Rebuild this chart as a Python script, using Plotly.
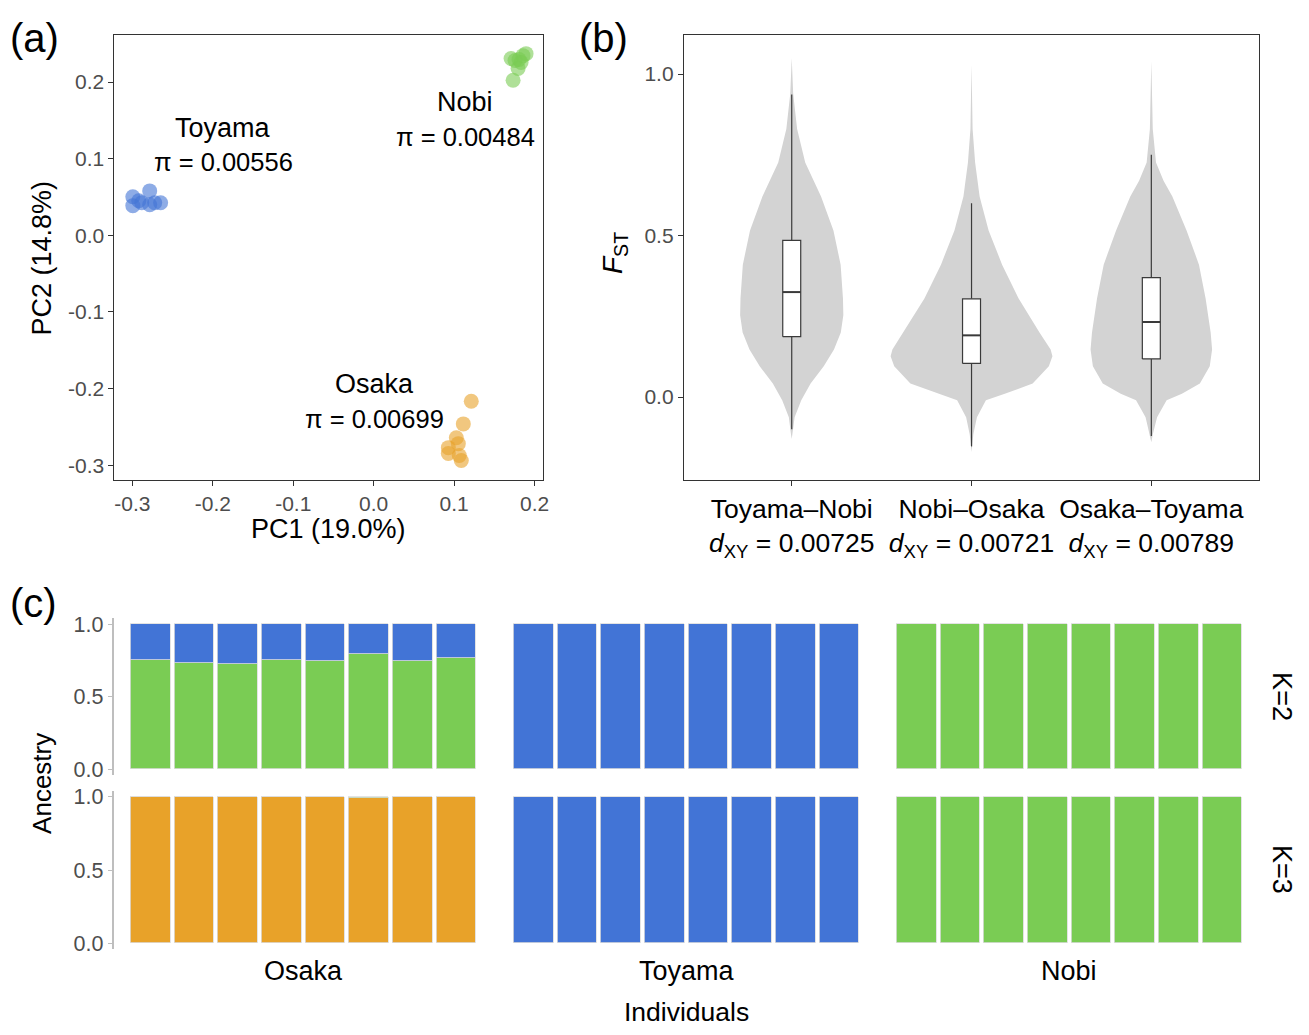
import plotly.graph_objects as go

W, H = 1309, 1035
FONT = "Liberation Sans, Arial, Helvetica, sans-serif"
GRAY_TXT = "#4D4D4D"
BLUE = "#4274D6"
GREEN = "#7ACC54"
ORANGE = "#E8A229"
VIOLIN = "#D3D3D3"

# ---------------- Panel (a) PCA data ----------------
toyama_pc1 = [-0.2995, -0.2785, -0.2649, -0.2995, -0.2884, -0.2785, -0.2921, -0.2723]
toyama_pc2 = [0.0503, 0.0580, 0.0425, 0.0387, 0.0425, 0.0399, 0.0451, 0.0425]
nobi_pc1 = [0.1894, 0.1708, 0.1832, 0.1795, 0.1733, 0.1856, 0.1757, 0.1807]
nobi_pc2 = [0.2371, 0.2307, 0.2255, 0.2178, 0.2023, 0.2345, 0.2281, 0.2294]
osaka_pc1 = [0.1213, 0.1114, 0.1027, 0.0928, 0.1052, 0.0928, 0.1089, 0.1064]
osaka_pc2 = [-0.2165, -0.2461, -0.2642, -0.2771, -0.2719, -0.2848, -0.2938, -0.2874]
pc1_ticks = [-0.3, -0.2, -0.1, 0.0, 0.1, 0.2]
pc1_ticktext = ["-0.3", "-0.2", "-0.1", "0.0", "0.1", "0.2"]
pc2_ticks = [-0.3, -0.2, -0.1, 0.0, 0.1, 0.2]
pc2_ticktext = ["-0.3", "-0.2", "-0.1", "0.0", "0.1", "0.2"]
pop_labels = ["Toyama", "Nobi", "Osaka"]
pop_pi = ["0.00556", "0.00484", "0.00699"]

# ---------------- Panel (b) FST data ----------------
pairs = ["Toyama–Nobi", "Nobi–Osaka", "Osaka–Toyama"]
dxy = ["0.00725", "0.00721", "0.00789"]
fst_q1 = [0.187, 0.104, 0.118]
fst_median = [0.325, 0.191, 0.232]
fst_q3 = [0.485, 0.304, 0.370]
fst_low = [-0.100, -0.153, -0.121]
fst_up = [0.937, 0.600, 0.750]
box_half = 0.05
# violin half-width profiles (in category units)
vy_TN = [-0.13, -0.116, -0.063, -0.01, 0.042, 0.095, 0.147, 0.2, 0.253, 0.305, 0.41, 0.516, 0.621, 0.726, 0.83, 0.94, 1.05]
vw_TN = [0.0, 0.004, 0.016, 0.053, 0.105, 0.178, 0.235, 0.273, 0.287, 0.285, 0.272, 0.232, 0.163, 0.075, 0.03, 0.008, 0.0]
vy_NO = [-0.17, -0.116, -0.063, -0.01, 0.01, 0.042, 0.095, 0.126, 0.147, 0.2, 0.305, 0.41, 0.516, 0.621, 0.726, 0.83, 1.03]
vw_NO = [0.0, 0.01, 0.03, 0.08, 0.185, 0.34, 0.43, 0.45, 0.44, 0.378, 0.262, 0.17, 0.095, 0.045, 0.02, 0.006, 0.0]
vy_OT = [-0.14, -0.116, -0.063, -0.01, 0.01, 0.042, 0.095, 0.147, 0.2, 0.305, 0.41, 0.516, 0.621, 0.67, 0.726, 0.83, 1.04]
vw_OT = [0.0, 0.008, 0.032, 0.085, 0.17, 0.27, 0.325, 0.338, 0.33, 0.302, 0.265, 0.196, 0.117, 0.068, 0.026, 0.008, 0.0]
violin_y = [vy_TN, vy_NO, vy_OT]
violin_w = [vw_TN, vw_NO, vw_OT]
fst_ticks = [0.0, 0.5, 1.0]
fst_ticktext = ["0.0", "0.5", "1.0"]

# ---------------- Panel (c) ancestry data ----------------
individuals = [1, 2, 3, 4, 5, 6, 7, 8]
osaka_k2_green = [0.752, 0.730, 0.722, 0.752, 0.746, 0.795, 0.745, 0.762]
osaka_k2_blue = [0.248, 0.270, 0.278, 0.248, 0.254, 0.205, 0.255, 0.238]
osaka_k3_orange = [1.0, 1.0, 1.0, 1.0, 1.0, 0.99, 1.0, 1.0]
osaka_k3_green = [0.0, 0.0, 0.0, 0.0, 0.0, 0.01, 0.0, 0.0]
toyama_k2_blue = [1.0] * 8
toyama_k3_blue = [1.0] * 8
nobi_k2_green = [1.0] * 8
nobi_k3_green = [1.0] * 8
groups = ["Osaka", "Toyama", "Nobi"]
k_labels = ["K=2", "K=3"]
anc_ticks = [0.0, 0.5, 1.0]
anc_ticktext = ["0.0", "0.5", "1.0"]


def px(x):
    return x / W


def py(y):
    return 1 - y / H


fig = go.Figure()

# ---- panel a traces
for xs, ys, col in [(toyama_pc1, toyama_pc2, BLUE), (nobi_pc1, nobi_pc2, GREEN), (osaka_pc1, osaka_pc2, ORANGE)]:
    fig.add_trace(go.Scatter(x=xs, y=ys, mode="markers", xaxis="x", yaxis="y",
                             marker=dict(size=15, color=col, opacity=0.6, line=dict(width=0)),
                             showlegend=False, hoverinfo="skip"))

# ---- panel b violins
for i, (vy, vw) in enumerate(zip(violin_y, violin_w)):
    xs = [i + w for w in vw] + [i - w for w in reversed(vw)]
    ys = list(vy) + list(reversed(vy))
    fig.add_trace(go.Scatter(x=xs, y=ys, mode="lines", fill="toself", fillcolor=VIOLIN,
                             line=dict(width=0, color=VIOLIN), xaxis="x2", yaxis="y2",
                             showlegend=False, hoverinfo="skip"))

# ---- panel b boxplots (drawn on top of violins)
BOXLINE = dict(color="#3A3A3A", width=1.2)
for i in range(len(pairs)):
    fig.add_trace(go.Scatter(x=[i, i, None, i, i],
                             y=[fst_low[i], fst_q1[i], None, fst_q3[i], fst_up[i]],
                             mode="lines", line=BOXLINE, xaxis="x2", yaxis="y2",
                             showlegend=False, hoverinfo="skip"))
    fig.add_trace(go.Scatter(x=[i - box_half, i + box_half, i + box_half, i - box_half, i - box_half],
                             y=[fst_q1[i], fst_q1[i], fst_q3[i], fst_q3[i], fst_q1[i]],
                             mode="lines", fill="toself", fillcolor="white", line=BOXLINE,
                             xaxis="x2", yaxis="y2", showlegend=False, hoverinfo="skip"))
    fig.add_trace(go.Scatter(x=[i - box_half, i + box_half], y=[fst_median[i], fst_median[i]],
                             mode="lines", line=dict(color="#3A3A3A", width=2),
                             xaxis="x2", yaxis="y2", showlegend=False, hoverinfo="skip"))

# ---- panel c bars
bar_sets = [
    ("x3", "y3", [(osaka_k2_green, GREEN), (osaka_k2_blue, BLUE)]),
    ("x4", "y4", [(toyama_k2_blue, BLUE)]),
    ("x5", "y5", [(nobi_k2_green, GREEN)]),
    ("x6", "y6", [(osaka_k3_orange, ORANGE), (osaka_k3_green, GREEN)]),
    ("x7", "y7", [(toyama_k3_blue, BLUE)]),
    ("x8", "y8", [(nobi_k3_green, GREEN)]),
]
for xa, ya, segs in bar_sets:
    for vals, col in segs:
        fig.add_trace(go.Bar(x=individuals, y=vals, xaxis=xa, yaxis=ya, width=0.91,
                             marker=dict(color=col, line=dict(color="#DCDCDC", width=0.8)),
                             showlegend=False, hoverinfo="skip"))

tickfont = dict(family=FONT, size=21, color=GRAY_TXT)
ydom_a = [py(480), py(29)]

layout = dict(
    width=W, height=H, margin=dict(l=0, r=0, t=0, b=0), autosize=False,
    paper_bgcolor="white", plot_bgcolor="white", barmode="stack", bargap=0,
    font=dict(family=FONT, color="black"),
    xaxis=dict(domain=[px(115), px(546)], range=[-0.3223, 0.2111], tickvals=pc1_ticks,
               ticktext=pc1_ticktext, showgrid=False, zeroline=False, showline=True,
               mirror=True, linecolor="#333333", linewidth=1, ticks="outside", ticklen=5,
               tickcolor="#333333", tickfont=tickfont, anchor="y"),
    yaxis=dict(domain=ydom_a, range=[-0.3193, 0.2619], tickvals=pc2_ticks,
               ticktext=pc2_ticktext, showgrid=False, zeroline=False, showline=True,
               mirror=True, linecolor="#333333", linewidth=1, ticks="outside", ticklen=5,
               tickcolor="#333333", tickfont=tickfont, anchor="x"),
    xaxis2=dict(domain=[px(687), px(1265)], range=[-0.6, 2.6], tickvals=[0, 1, 2],
                ticktext=[f"{p}<br><i>d</i><sub>XY</sub> = {d}" for p, d in zip(pairs, dxy)],
                showgrid=False, zeroline=False, showline=True, mirror=True,
                linecolor="#333333", linewidth=1, ticks="outside", ticklen=5,
                tickcolor="#333333", tickfont=dict(family=FONT, size=26.5, color="black"),
                anchor="y2"),
    yaxis2=dict(domain=ydom_a, range=[-0.2569, 1.1223], tickvals=fst_ticks,
                ticktext=fst_ticktext, showgrid=False, zeroline=False, showline=True,
                mirror=True, linecolor="#333333", linewidth=1, ticks="outside", ticklen=5,
                tickcolor="#333333", tickfont=tickfont, anchor="x2"),
)

# panel c axes
col_dom = [(px(115), px(480)), (px(514), px(865)), (px(899), px(1250))]
col_rng = [[0.5 - 14 / 43.875, 8.5], [0.5, 8.5], [0.5, 8.5]]
row_dom = [(py(779), py(620)), (py(955), py(795))]
n = 3
for r in range(2):
    for c in range(3):
        xa = f"xaxis{n}"
        ya = f"yaxis{n}"
        layout[xa] = dict(domain=list(col_dom[c]), range=col_rng[c], visible=False,
                          anchor=f"y{n}", fixedrange=True)
        if c == 0:
            layout[ya] = dict(domain=list(row_dom[r]), range=[-0.04, 1.04], tickvals=anc_ticks,
                              ticktext=anc_ticktext, showgrid=False, zeroline=False,
                              showline=True, linecolor="#BEBEBE", linewidth=1.5,
                              ticks="outside", ticklen=5, tickcolor="#BEBEBE",
                              tickfont=dict(family=FONT, size=21.5, color=GRAY_TXT),
                              anchor=f"x{n}")
        else:
            layout[ya] = dict(domain=list(row_dom[r]), range=[-0.04, 1.04], visible=False,
                              anchor=f"x{n}")
        n += 1

fig.update_layout(**layout)

ann = []


def add_paper(text, x, y, size, xanchor="center", yanchor="middle", angle=0, color="black"):
    ann.append(dict(text=text, x=px(x), y=py(y), xref="paper", yref="paper", showarrow=False,
                    xanchor=xanchor, yanchor=yanchor, textangle=angle,
                    font=dict(family=FONT, size=size, color=color)))


add_paper("(a)", 8, 32, 40, xanchor="left")
add_paper("(b)", 580, 32, 40, xanchor="left")
add_paper("(c)", 8, 605, 40, xanchor="left")
add_paper("PC1 (19.0%)", 330, 530, 27)
add_paper("PC2 (14.8%)", 42, 255, 27, angle=-90)
add_paper("<i>F</i><sub>ST</sub>", 618, 250, 28, angle=-90)
add_paper("Ancestry", 42, 787, 26, angle=-90)
add_paper("Individuals", 690, 1019, 26.5)
for g, cx in zip(groups, [305, 690, 1074]):
    add_paper(g, cx, 977, 27)
for k, cy in zip(k_labels, [699, 874]):
    add_paper(k, 1288, cy, 27, angle=90)

# panel a population labels (data coordinates)
lab_pos = [(-0.187, 0.1405, 0.0954), (0.1139, 0.174, 0.1289), (0.0012, -0.1946, -0.2397)]
for name, pi, (lx, ly1, ly2) in zip(pop_labels, pop_pi, lab_pos):
    ann.append(dict(text=name, x=lx, y=ly1, xref="x", yref="y", showarrow=False,
                    font=dict(family=FONT, size=27, color="black")))
    ann.append(dict(text=f"π = {pi}", x=lx, y=ly2, xref="x", yref="y", showarrow=False,
                    font=dict(family=FONT, size=25.5, color="black")))

fig.update_layout(annotations=ann)

post = (
    "document.documentElement.style.margin='0px';"
    "document.documentElement.style.overflow='hidden';"
    "document.body.style.margin='0px';document.body.style.padding='0px';"
    "document.body.style.overflow='hidden';"
    "var gd=document.getElementsByClassName('plotly-graph-div')[0];"
    "gd.style.position='fixed';gd.style.left='0px';gd.style.top='0px';"
)
fig.write_html("out.html", config={"displayModeBar": False}, post_script=post)
